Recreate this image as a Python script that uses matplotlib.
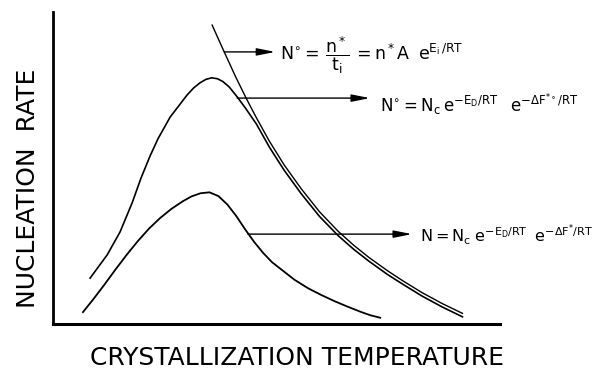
import matplotlib
matplotlib.use("Agg")
import matplotlib.pyplot as plt

plt.rcParams['font.family'] = 'DejaVu Sans'
plt.rcParams['mathtext.fontset'] = 'dejavusans'
plt.rcParams['mathtext.default'] = 'regular'

# curves (temperature and rate in arbitrary units, 0-100)
steep_t = [35.6, 38.3, 40.9, 43.2, 45.5, 48.4, 51.7, 55.5, 59.6, 63.8, 67.3,
           70.7, 74.9, 78.3, 82.5, 87.0, 91.6]
steep_n = [95.8, 87.2, 79.1, 72.4, 66.1, 58.6, 51.0, 43.4, 36.0, 29.7, 25.2,
           21.3, 17.0, 13.8, 10.1, 6.6, 3.4]

upper_t = [8.3, 12.1, 15.0, 17.7, 19.7, 21.7, 23.5, 26.2, 30.0, 31.5, 32.9,
           34.2, 35.5, 36.8, 38.0, 39.4, 41.2, 43.0, 45.5, 48.4, 51.7, 55.5,
           59.6, 63.8, 67.3, 70.7, 74.9, 78.3, 82.5, 87.0, 91.6]
upper_n = [14.7, 22.1, 29.5, 38.8, 46.8, 53.8, 59.4, 66.3, 73.4, 75.7, 77.3,
           78.4, 78.9, 78.6, 77.7, 76.0, 72.8, 69.3, 64.1, 56.7, 49.3, 41.8,
           34.5, 28.3, 23.9, 20.1, 15.8, 12.7, 9.0, 5.5, 2.3]

lower_t = [6.7, 9.0, 11.5, 14.0, 16.5, 19.0, 21.5, 24.0, 26.5, 29.0, 31.0,
           33.0, 35.0, 37.0, 39.0, 41.0, 43.0, 45.0, 47.0, 49.0, 51.5, 54.0,
           57.0, 60.0, 63.0, 66.0, 69.0, 71.0, 73.2]
lower_n = [3.8, 7.9, 12.6, 17.5, 22.2, 26.6, 30.6, 34.0, 36.9, 39.3, 40.9,
           41.9, 42.2, 41.0, 38.3, 34.6, 30.3, 26.3, 22.8, 19.8, 17.0, 14.2,
           11.5, 9.3, 7.3, 5.5, 3.8, 2.8, 2.0]

# arrows: (start t, tip t, level)
arrows = [(38.3, 49.7, 87.2), (41.2, 70.9, 72.4), (43.6, 80.3, 28.8)]

eq_pos = [(50.8, 84.6), (73.2, 67.9), (82.1, 26.3)]
eq_size = [12.5, 12, 11.5]
equations = [
    r'$N^{\circ}=\,\dfrac{n^*}{t_i}\,=n^*A\;\;e^{E_i\,/RT}$',
    r'$N^{\circ}=N_c\,e^{-E_D/RT}\;\;\;e^{-\Delta F^{*\circ}/RT}$',
    r'$N = N_c\;e^{-E_D/RT}\;\;e^{-\Delta F^{*}/RT}$',
]

fig = plt.figure(figsize=(6.12, 3.78), dpi=100)
ax = fig.add_axes([0.0866, 0.1429, 0.7304, 0.8254])
ax.set_xlim(0, 100)
ax.set_ylim(0, 100)

ax.plot(steep_t, steep_n, color='black', lw=1.0)
ax.plot(upper_t, upper_n, color='black', lw=1.2)
ax.plot(lower_t, lower_n, color='black', lw=1.3)

for t0, t1, n in arrows:
    ax.annotate('', xy=(t1, n), xytext=(t0, n),
                arrowprops=dict(arrowstyle='-|>,head_length=1.1,head_width=0.22',
                                color='black', lw=1.0, shrinkA=0, shrinkB=0),
                annotation_clip=False)

for (t, n), eq, fs in zip(eq_pos, equations, eq_size):
    ax.text(t, n, eq, fontsize=fs, ha='left', va='baseline', clip_on=False)

ax.spines['top'].set_visible(False)
ax.spines['right'].set_visible(False)
ax.spines['left'].set_linewidth(2)
ax.spines['bottom'].set_linewidth(2.2)
ax.set_xticks([])
ax.set_yticks([])

fig.text(28 / 612, 1 - 188 / 378, 'NUCLEATION  RATE', rotation=90,
         ha='center', va='center', fontsize=18)
fig.text(297 / 612, 1 - 358 / 378, 'CRYSTALLIZATION TEMPERATURE',
         ha='center', va='center', fontsize=18)

fig.savefig('out.png', dpi=100)
